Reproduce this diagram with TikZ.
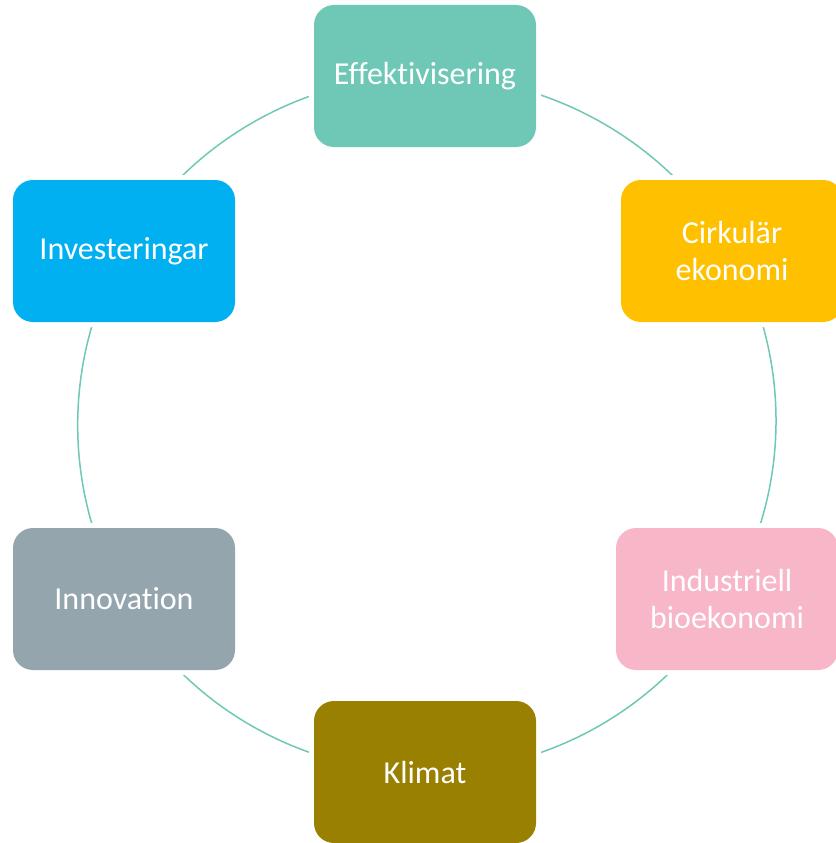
\documentclass[tikz,border=0pt]{standalone}
\usepackage{fontspec}
\setmainfont[Ligatures=NoCommon]{Carlito}
\usetikzlibrary{backgrounds}

\definecolor{effcol}{RGB}{111,200,181}
\definecolor{cirkcol}{RGB}{255,192,0}
\definecolor{inducol}{RGB}{248,182,201}
\definecolor{klimcol}{RGB}{153,128,0}
\definecolor{innocol}{RGB}{149,165,174}
\definecolor{invcol}{RGB}{0,176,240}
\definecolor{ringcol}{RGB}{111,200,181}

\begin{document}
\begin{tikzpicture}[
    x=1pt, y=-1pt,
    stage/.style={
        fill=#1,
        rounded corners=20pt,
        minimum width=222pt, minimum height=142pt,
        inner sep=0pt,
        align=center, text=white,
        font=\fontsize{32}{37}\selectfont,
        preaction={draw=white, line width=10pt}% gap round the box
    },
    ring/.style={draw=ringcol, line width=1.5pt}
    ]

    \useasboundingbox (0,0) rectangle (835,843);

    \node[stage=effcol]  (eff)  at (425,76)  {Effektivisering};
    \node[stage=cirkcol] (cirk) at (732,251) {Cirkulär\\ekonomi};
    \node[stage=inducol] (indu) at (727,599) {Industriell\\bioekonomi};
    \node[stage=klimcol] (klim) at (425,772) {Klimat};
    \node[stage=innocol] (inno) at (124,599) {Innovation};
    \node[stage=invcol]  (inv)  at (124,251) {Investeringar};

    % the ring, behind the boxes
    \begin{scope}[on background layer]
        \draw[ring] (eff.center)  to[bend left=30,looseness=0.91] (cirk.center);
        \draw[ring] (cirk.center) to[bend left=30,looseness=0.91] (indu.center);
        \draw[ring] (indu.center) to[bend left=30,looseness=0.91] (klim.center);
        \draw[ring] (klim.center) to[bend left=30,looseness=0.91] (inno.center);
        \draw[ring] (inno.center) to[bend left=30,looseness=0.91] (inv.center);
        \draw[ring] (inv.center)  to[bend left=30,looseness=0.91] (eff.center);
    \end{scope}

\end{tikzpicture}
\end{document}
